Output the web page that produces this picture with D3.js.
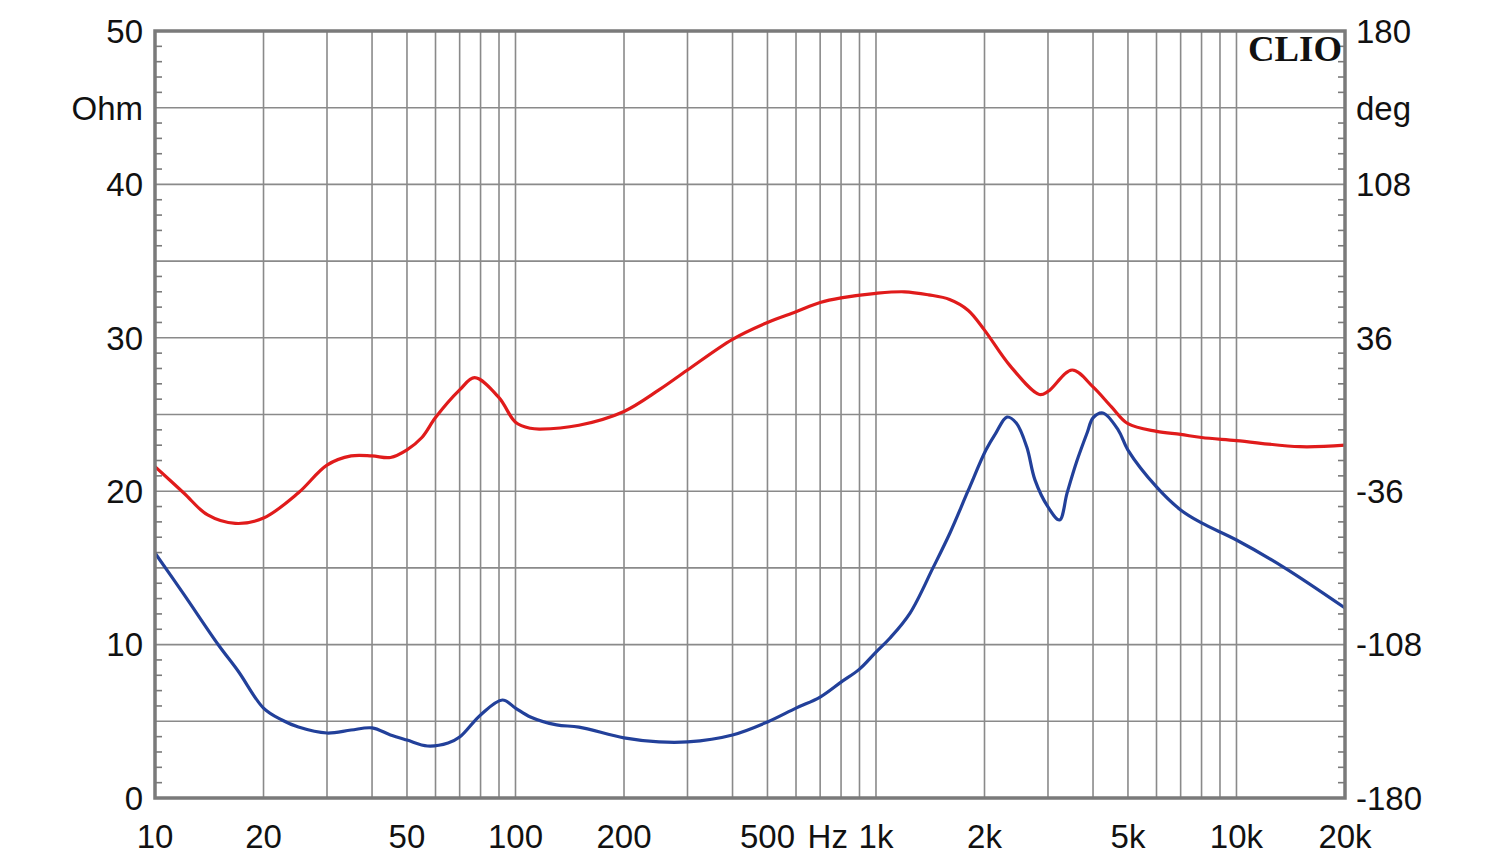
<!DOCTYPE html>
<html>
<head>
<meta charset="utf-8">
<script src="https://cdn.jsdelivr.net/npm/d3@7"></script>
<style>
  html, body { margin: 0; padding: 0; background: #fff; }
  svg { display: block; }
</style>
</head>
<body>
<svg id="chart" width="1500" height="864"></svg>
<script>
// ---- data ----
const impFreq = [10,12,14,16.7,20,25,30,35,40,45,50,55,60,70,77,90,100,110,117,150,200,250,300,400,500,600,700,800,1000,1200,1400,1600,1800,2000,2350,2840,3000,3500,4000,4500,5000,6000,7000,8000,10000,15000,20000];
const impedance = [21.6,19.9,18.45,17.9,18.25,19.9,21.7,22.3,22.3,22.2,22.7,23.5,24.8,26.6,27.4,26.1,24.5,24.1,24.05,24.3,25.2,26.6,27.9,29.9,31.0,31.7,32.3,32.6,32.9,33.0,32.8,32.5,31.8,30.5,28.2,26.3,26.5,27.9,26.8,25.5,24.4,23.9,23.7,23.5,23.3,22.9,23.0];

const phaseFreq = [10,12,15,17,20,22.5,25,30,35,40,45,50,57,65,70,80,92,100,110,130,150,200,250,300,400,500,600,700,800,900,1000,1094,1243,1439,1604,1800,2018,2150,2309,2450,2620,2760,3000,3230,3390,3600,3860,4000,4260,4700,5000,6000,7000,8000,10000,13500,20000];
const phase = [-65,-84.2,-108.2,-120.4,-137.8,-143.4,-146.7,-149.5,-148.1,-147.1,-150.4,-152.8,-155.6,-154.2,-151.4,-141,-134,-137.8,-142,-145.7,-146.7,-151.8,-153.7,-153.7,-150.4,-144.3,-137.8,-132.6,-125.6,-119.5,-111.5,-104.9,-93.2,-72,-55.6,-35.9,-16.7,-8.7,-1.2,-4,-15.3,-30.7,-43.4,-49.5,-36.8,-22.3,-8.2,-1.6,0.7,-7.3,-16.7,-34,-44.8,-50.9,-58.9,-71.6,-90.8];

const xTickValues = [10,20,50,100,200,500,1000,2000,5000,10000,20000];
const xTickLabels = ["10","20","50","100","200","500","1k","2k","5k","10k","20k"];
const leftTickValues = [0,10,20,30,40,50];
const rightTickValues = [-180,-108,-36,36,108,180];

// ---- layout ----
const svg = d3.select("#chart");
const L = 155, R = 1345, T = 31, B = 798;
const x = d3.scaleLog().domain([10, 20000]).range([L, R]);
const yL = d3.scaleLinear().domain([0, 50]).range([B, T]);
const yR = d3.scaleLinear().domain([-180, 180]).range([B, T]);

const gridColor = "#8a8a8a";
const frameColor = "#7a7a7a";
const font = "'Liberation Sans', Arial, sans-serif";
const fs = 33;

// vertical grid
const vGrid = [];
[10,100,1000,10000].forEach(d => { for (let k = 1; k <= 9; k++) { const f = d*k; if (f > 10 && f < 20000) vGrid.push(f); } });
svg.append("g").selectAll("line").data(vGrid).join("line")
  .attr("x1", d => x(d)).attr("x2", d => x(d))
  .attr("y1", T).attr("y2", B)
  .attr("stroke", gridColor).attr("stroke-width", 1.6);

// horizontal grid
const hGrid = d3.range(5, 50, 5);
svg.append("g").selectAll("line").data(hGrid).join("line")
  .attr("x1", L).attr("x2", R)
  .attr("y1", d => yL(d)).attr("y2", d => yL(d))
  .attr("stroke", gridColor).attr("stroke-width", 1.6);

// minor ticks every 1 Ohm (inward) on left and right
const minor = d3.range(1, 50).filter(d => d % 5 !== 0);
svg.append("g").selectAll("line").data(minor).join("line")
  .attr("x1", L).attr("x2", L + 7)
  .attr("y1", d => yL(d)).attr("y2", d => yL(d))
  .attr("stroke", frameColor).attr("stroke-width", 1.6);
svg.append("g").selectAll("line").data(minor).join("line")
  .attr("x1", R - 7).attr("x2", R)
  .attr("y1", d => yL(d)).attr("y2", d => yL(d))
  .attr("stroke", frameColor).attr("stroke-width", 1.6);

// curves
const lineImp = d3.line().x((d,i) => x(impFreq[i])).y(d => yL(d)).curve(d3.curveCatmullRom.alpha(0.5));
const linePh = d3.line().x((d,i) => x(phaseFreq[i])).y(d => yR(d)).curve(d3.curveCatmullRom.alpha(0.5));

svg.append("path").datum(phase).attr("d", linePh)
  .attr("fill", "none").attr("stroke", "#22409a").attr("stroke-width", 3.2);
svg.append("path").datum(impedance).attr("d", lineImp)
  .attr("fill", "none").attr("stroke", "#e01b1b").attr("stroke-width", 3.2);

// frame
svg.append("rect").attr("x", L).attr("y", T).attr("width", R - L).attr("height", B - T)
  .attr("fill", "none").attr("stroke", frameColor).attr("stroke-width", 3.5);

// left labels
svg.append("g").selectAll("text").data(leftTickValues).join("text")
  .attr("x", 143).attr("y", d => yL(d)).attr("dy", "0.36em")
  .attr("text-anchor", "end").attr("font-family", font).attr("font-size", fs).attr("fill", "#111")
  .text(d => d);
svg.append("text").attr("x", 143).attr("y", yL(45)).attr("dy", "0.36em")
  .attr("text-anchor", "end").attr("font-family", font).attr("font-size", fs).attr("fill", "#111")
  .text("Ohm");

// right labels
svg.append("g").selectAll("text").data(rightTickValues).join("text")
  .attr("x", 1356).attr("y", d => yR(d)).attr("dy", "0.36em")
  .attr("text-anchor", "start").attr("font-family", font).attr("font-size", fs).attr("fill", "#111")
  .text(d => d);
svg.append("text").attr("x", 1356).attr("y", yL(45)).attr("dy", "0.36em")
  .attr("text-anchor", "start").attr("font-family", font).attr("font-size", fs).attr("fill", "#111")
  .text("deg");

// bottom labels
svg.append("g").selectAll("text").data(xTickValues).join("text")
  .attr("x", d => x(d)).attr("y", 848)
  .attr("text-anchor", "middle").attr("font-family", font).attr("font-size", fs).attr("fill", "#111")
  .text((d,i) => xTickLabels[i]);
svg.append("text").attr("x", (x(500) + x(1000)) / 2 + 6).attr("y", 848)
  .attr("text-anchor", "middle").attr("font-family", font).attr("font-size", fs).attr("fill", "#111")
  .text("Hz");

// CLIO logo
svg.append("text").attr("x", 1342).attr("y", 61)
  .attr("text-anchor", "end").attr("font-family", "'Liberation Serif', 'Times New Roman', serif")
  .attr("font-weight", "bold").attr("font-size", 36).attr("fill", "#111")
  .attr("textLength", 94).attr("lengthAdjust", "spacingAndGlyphs")
  .text("CLIO");
</script>
</body>
</html>
